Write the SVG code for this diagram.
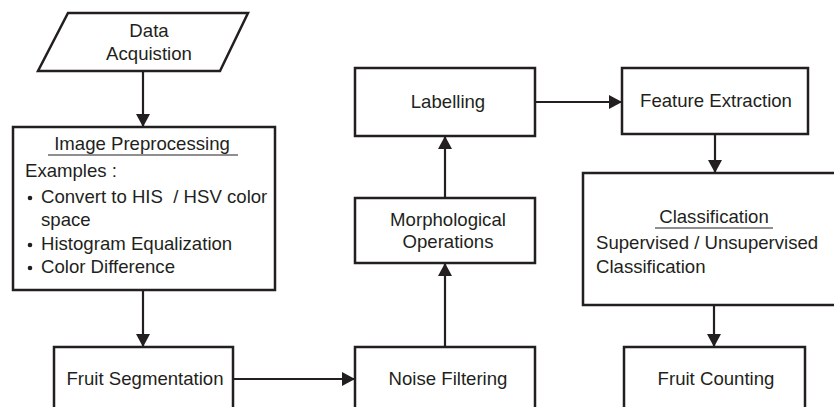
<svg xmlns="http://www.w3.org/2000/svg" width="834" height="407" viewBox="0 0 834 407">
<defs>
<style>
.box{fill:#fff;stroke:#231f20;stroke-width:2.5}
.t{font-family:"Liberation Sans",Arial,sans-serif;font-size:18.6px;fill:#231f20}
.c{text-anchor:middle}
.ln{stroke:#231f20;stroke-width:2.2;fill:none}
.ul{stroke:#231f20;stroke-width:1.2}
</style>
<marker id="ah" markerUnits="userSpaceOnUse" markerWidth="15" markerHeight="15" refX="13" refY="7" orient="auto">
<path d="M0,0 L13,7 L0,14 z" fill="#231f20"/>
</marker>
</defs>
<rect width="834" height="407" fill="#fff"/>
<g id="connectors">
<line class="ln" x1="143" y1="71" x2="143" y2="127" marker-end="url(#ah)"/>
<line class="ln" x1="143" y1="290" x2="143" y2="347" marker-end="url(#ah)"/>
<line class="ln" x1="233" y1="379" x2="355" y2="379" marker-end="url(#ah)"/>
<line class="ln" x1="445" y1="347" x2="445" y2="263" marker-end="url(#ah)"/>
<line class="ln" x1="445" y1="198" x2="445" y2="136" marker-end="url(#ah)"/>
<line class="ln" x1="535" y1="102" x2="622" y2="102" marker-end="url(#ah)"/>
<line class="ln" x1="715" y1="134" x2="715" y2="173" marker-end="url(#ah)"/>
<line class="ln" x1="714" y1="305" x2="714" y2="347" marker-end="url(#ah)"/>
</g>
<g id="data-acquisition">
<polygon class="box" points="68,13 248,13 220,71 38,71"/>
<text class="t c" x="149" y="37">Data</text>
<text class="t c" x="149" y="60">Acquistion</text>
</g>
<g id="image-preprocessing">
<rect class="box" x="13" y="127" width="262" height="163"/>
<text class="t c" x="142" y="150">Image Preprocessing</text>
<line class="ul" x1="48" y1="155" x2="238" y2="155"/>
<text class="t" x="25" y="177">Examples :</text>
<circle cx="30" cy="198" r="2.3" fill="#231f20"/>
<text class="t" x="41" y="203">Convert to HIS&#160; / HSV color</text>
<text class="t" x="41" y="226">space</text>
<circle cx="30" cy="245" r="2.3" fill="#231f20"/>
<text class="t" x="41" y="250">Histogram Equalization</text>
<circle cx="30" cy="268" r="2.3" fill="#231f20"/>
<text class="t" x="41" y="273">Color Difference</text>
</g>
<g id="fruit-segmentation">
<rect class="box" x="54" y="347" width="179" height="80"/>
<text class="t c" x="145" y="385">Fruit Segmentation</text>
</g>
<g id="noise-filtering">
<rect class="box" x="355" y="347" width="180" height="80"/>
<text class="t c" x="448" y="385">Noise Filtering</text>
</g>
<g id="morphological-operations">
<rect class="box" x="355" y="198" width="180" height="65"/>
<text class="t c" x="448" y="226">Morphological</text>
<text class="t c" x="448" y="248">Operations</text>
</g>
<g id="labelling">
<rect class="box" x="355" y="68" width="180" height="68"/>
<text class="t c" x="448" y="108">Labelling</text>
</g>
<g id="feature-extraction">
<rect class="box" x="622" y="68" width="186" height="66"/>
<text class="t c" x="716" y="107">Feature Extraction</text>
</g>
<g id="classification">
<rect class="box" x="583" y="173" width="260" height="132"/>
<text class="t c" x="714" y="223">Classification</text>
<line class="ul" x1="655" y1="228" x2="773" y2="228"/>
<text class="t" x="596" y="249">Supervised / Unsupervised</text>
<text class="t" x="596" y="273">Classification</text>
</g>
<g id="fruit-counting">
<rect class="box" x="624" y="347" width="181" height="80"/>
<text class="t c" x="716" y="385">Fruit Counting</text>
</g>
</svg>
